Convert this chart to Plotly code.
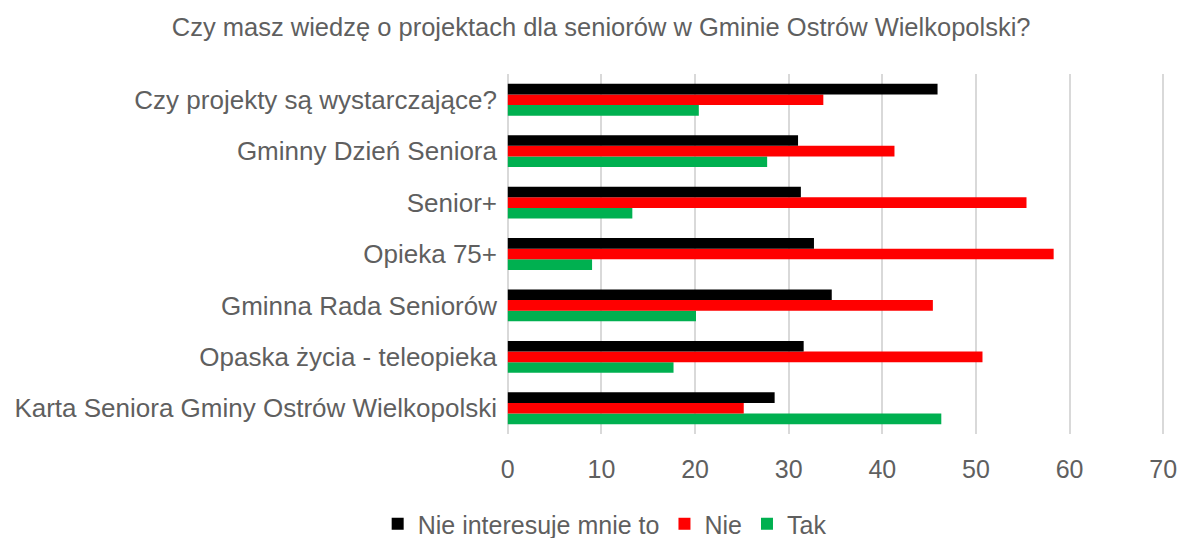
import plotly.graph_objects as go

categories = [
    "Karta Seniora Gminy Ostrów Wielkopolski",
    "Opaska życia - teleopieka",
    "Gminna Rada Seniorów",
    "Opieka 75+",
    "Senior+",
    "Gminny Dzień Seniora",
    "Czy projekty są wystarczające?",
]
tak = [46.3, 17.7, 20.1, 9.0, 13.3, 27.7, 20.4]
nie = [25.2, 50.7, 45.4, 58.3, 55.4, 41.3, 33.7]
nie_interesuje = [28.5, 31.6, 34.6, 32.7, 31.3, 31.0, 45.9]
x_ticks = [0, 10, 20, 30, 40, 50, 60, 70]

font_family = "Liberation Sans"
grey = "#5f5f5f"

fig = go.Figure()
fig.add_trace(go.Bar(y=categories, x=tak, name="Tak", orientation="h",
                     marker=dict(color="#00B050", line=dict(width=0))))
fig.add_trace(go.Bar(y=categories, x=nie, name="Nie", orientation="h",
                     marker=dict(color="#FF0000", line=dict(width=0))))
fig.add_trace(go.Bar(y=categories, x=nie_interesuje, name="Nie interesuje mnie to",
                     orientation="h", marker=dict(color="#000000", line=dict(width=0))))

fig.update_layout(
    width=1181, height=538,
    barmode="group", bargap=0.38, bargroupgap=0,
    paper_bgcolor="white", plot_bgcolor="white",
    margin=dict(l=505, r=15, t=74, b=104, autoexpand=False),
    title=dict(text="Czy masz wiedzę o projektach dla seniorów w Gminie Ostrów Wielkopolski?",
               xref="container", yref="container",
               x=0.509, xanchor="center", y=0.95, yanchor="middle",
               font=dict(family=font_family, size=25.5, color=grey)),
    font=dict(family=font_family, color=grey),
    legend=dict(orientation="h", traceorder="reversed",
                xref="container", yref="container",
                x=0.512, xanchor="center", y=0.026, yanchor="middle",
                font=dict(size=25, color=grey), itemwidth=30,
                tracegroupgap=0),
    showlegend=True,
)
fig.update_xaxes(range=[-0.3, 70.3], tickvals=x_ticks,
                 showgrid=True, gridcolor="#D9D9D9", gridwidth=2,
                 zeroline=False, showline=False, tickfont=dict(size=25, color=grey),
                 ticks="", ticklabelstandoff=18, automargin=False)
fig.update_yaxes(categoryorder="array", categoryarray=categories,
                 tickfont=dict(size=26, color=grey), ticks="", showline=False,
                 ticklabelstandoff=7, automargin=False)

# remove the page's default body margin so the figure fills the window exactly
fig.write_html("out.html",
               config={"displayModeBar": False},
               post_script="document.body.style.margin='0';document.body.style.overflow='hidden';")
